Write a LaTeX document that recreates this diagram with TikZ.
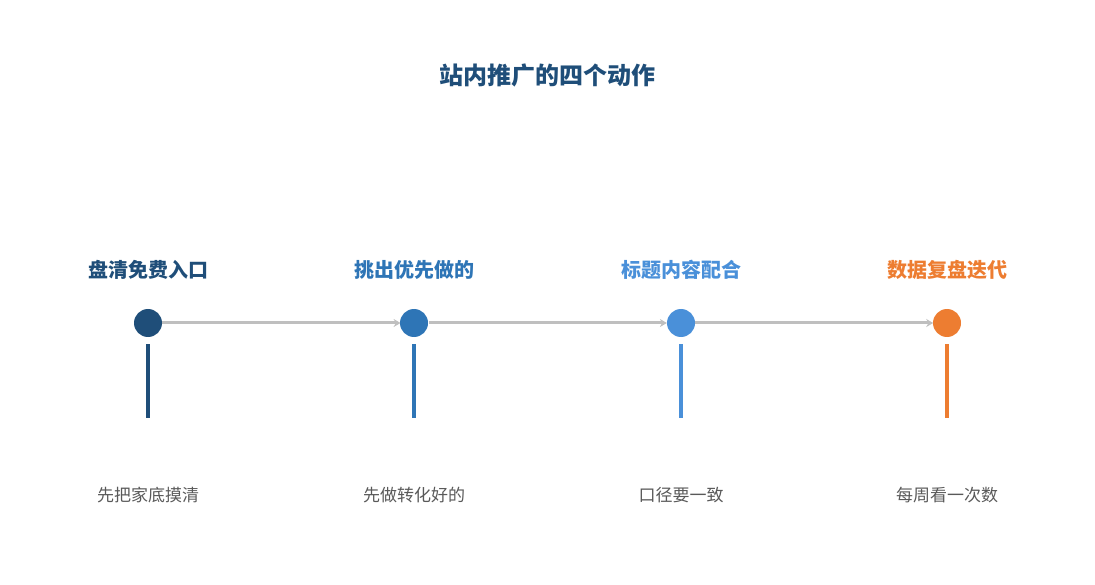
\documentclass[tikz,border=0pt]{standalone}
\usepackage{fontspec}
\newfontfamily\cjk{Noto Sans CJK SC}
\usetikzlibrary{arrows.meta}
\definecolor{c1}{HTML}{1F4E79}
\definecolor{c2}{HTML}{2E75B6}
\definecolor{c3}{HTML}{4A90D9}
\definecolor{c4}{HTML}{ED7D31}
\definecolor{tg}{HTML}{595959}
\definecolor{lg}{HTML}{BFBFBF}
\begin{document}
\begin{tikzpicture}[x=1pt,y=-1pt,
  dot/.style={circle,fill=#1,minimum size=28pt,inner sep=0pt},
  head/.style={text=#1,font=\cjk\bfseries\fontsize{20}{24}\selectfont},
  sub/.style={text=tg,font=\cjk\fontsize{17}{20}\selectfont},
  link/.style={draw=lg,line width=3pt,-{Stealth[length=7pt,width=8pt]}},
  stem/.style={draw=#1,line width=4pt}]
\useasboundingbox (0,0) rectangle (1095,585);
\node[text=c1,font=\cjk\bfseries\fontsize{24}{28}\selectfont] (t) at (547,75) {站内推广的四个动作};
\foreach \i/\x/\c/\h/\s in {1/148/c1/盘清免费入口/先把家底摸清,2/414/c2/挑出优先做的/先做转化好的,3/681/c3/标题内容配合/口径要一致,4/947/c4/数据复盘迭代/每周看一次数}{
  \node[head=\c] (h\i) at (\x,270) {\h};
  \node[sub] (s\i) at (\x,495) {\s};
  \coordinate (a\i) at (\x,344);
  \coordinate (b\i) at (\x,418);
  \draw[stem=\c] (a\i) -- (b\i);
}
\foreach \i/\j in {1/2,2/3,3/4}{\draw[link] (\i*266.3-118+14,323) -- (\j*266.3-118-14,323);}
\foreach \i/\x/\c in {1/148/c1,2/414/c2,3/681/c3,4/947/c4}{\node[dot=\c] (d\i) at (\x,323) {};}
\end{tikzpicture}
\end{document}
